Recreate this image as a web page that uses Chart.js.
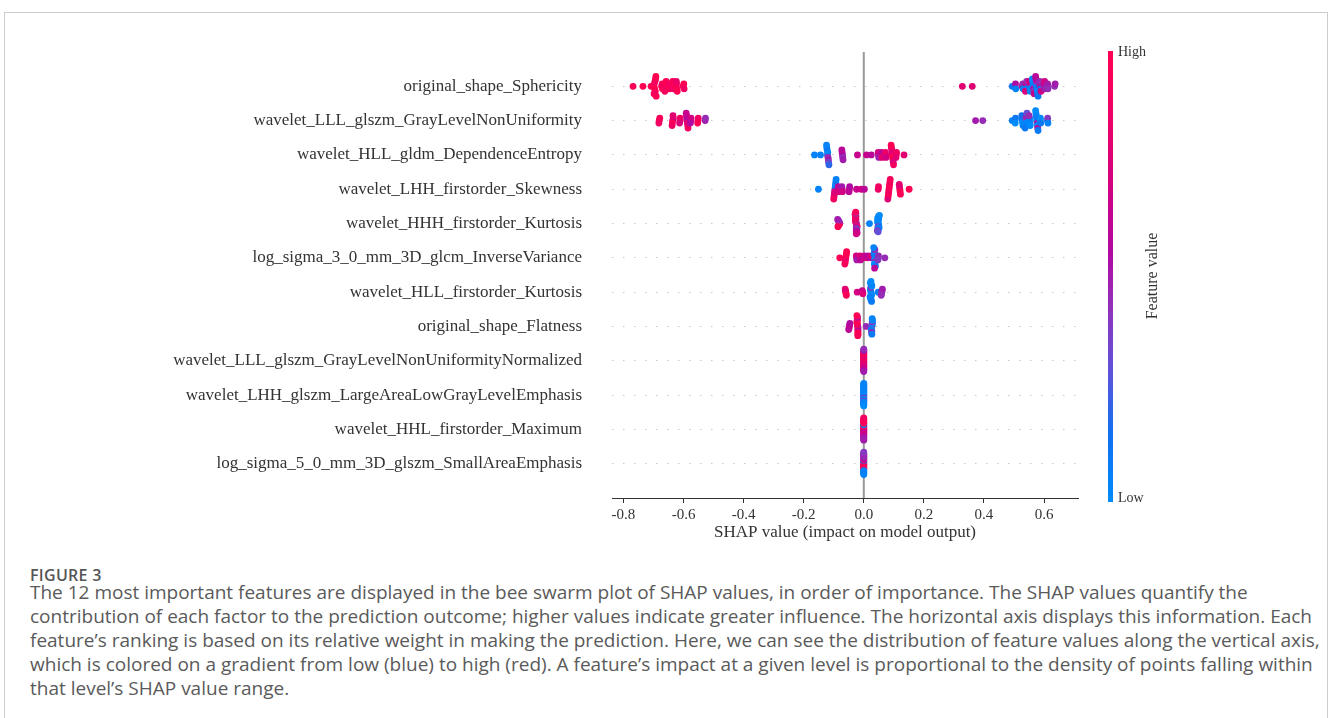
<!DOCTYPE html>
<html>
<head>
<meta charset="utf-8">
<script src="https://cdn.jsdelivr.net/npm/chart.js@4.4.1/dist/chart.umd.min.js"></script>
<style>
  html, body { margin: 0; padding: 0; background: #fff; overflow: hidden; }
  body { width: 1328px; height: 718px; position: relative; }
  .frame { position: absolute; left: 4px; top: 12px; width: 1322px; height: 720px; border: 1px solid #ccc; border-bottom: none; }
  #plot { position: absolute; left: 0; top: 0; }
  .fig-label { position: absolute; left: 30px; top: 565px; font: 600 16px/20px "Open Sans", sans-serif; color: #555; letter-spacing: 0.3px; }
  .caption { position: absolute; left: 30px; top: 580px; font: 400 19px/24px "Open Sans", sans-serif; color: #5a5a5a; white-space: nowrap; }
</style>
</head>
<body>
<div class="frame"></div>
<canvas id="plot" width="1328" height="545"></canvas>
<div class="fig-label">FIGURE 3</div>
<div class="caption">The 12 most important features are displayed in the bee swarm plot of SHAP values, in order of importance. The SHAP values quantify the<br>contribution of each factor to the prediction outcome; higher values indicate greater influence. The horizontal axis displays this information. Each<br>feature’s ranking is based on its relative weight in making the prediction. Here, we can see the distribution of feature values along the vertical axis,<br>which is colored on a gradient from low (blue) to high (red). A feature’s impact at a given level is proportional to the density of points falling within<br>that level’s SHAP value range.</div>

<script>
// 特徴量（上から重要度順）
const FEATURES = [
  "original_shape_Sphericity",
  "wavelet_LLL_glszm_GrayLevelNonUniformity",
  "wavelet_HLL_gldm_DependenceEntropy",
  "wavelet_LHH_firstorder_Skewness",
  "wavelet_HHH_firstorder_Kurtosis",
  "log_sigma_3_0_mm_3D_glcm_InverseVariance",
  "wavelet_HLL_firstorder_Kurtosis",
  "original_shape_Flatness",
  "wavelet_LLL_glszm_GrayLevelNonUniformityNormalized",
  "wavelet_LHH_glszm_LargeAreaLowGrayLevelEmphasis",
  "wavelet_HHL_firstorder_Maximum",
  "log_sigma_5_0_mm_3D_glszm_SmallAreaEmphasis"
]

const X_TICKS = [-0.8, -0.6, -0.4, -0.2, 0.0, 0.2, 0.4, 0.6]

// SHAP値 / 特徴量の値 (0 = Low, 1 = High)
const SHAP_1 = [
  -0.768, -0.735, -0.708,
  -0.699, -0.697, -0.696, -0.695, -0.694, -0.693, -0.698, -0.692, -0.691,
  -0.673, -0.671, -0.670,
  -0.661, -0.660, -0.659, -0.658, -0.662,
  -0.649, -0.647, -0.646,
  -0.637, -0.635, -0.634, -0.636,
  -0.625, -0.623, -0.622, -0.624, -0.621,
  -0.601, -0.599, -0.598,
  0.328, 0.361, 0.494,
  0.503, 0.505, 0.506,
  0.527, 0.529, 0.530,
  0.539, 0.540, 0.541, 0.542, 0.538,
  0.551, 0.552, 0.553, 0.550, 0.554,
  0.563, 0.564, 0.565, 0.562, 0.566, 0.561, 0.567,
  0.575, 0.576, 0.577, 0.574, 0.578, 0.573, 0.579, 0.572, 0.580,
  0.587, 0.588, 0.589, 0.586, 0.590,
  0.599, 0.600, 0.601, 0.602,
  0.611, 0.612, 0.613,
  0.635, 0.637
]
const FEAT_1 = [
  0.95, 1.0, 0.97,
  1.0, 0.95, 1.0, 0.9, 1.0, 0.97, 0.92, 1.0, 0.95,
  1.0, 0.9, 0.95,
  0.95, 1.0, 0.88, 1.0, 0.92,
  1.0, 0.9, 0.95,
  0.92, 1.0, 0.88, 0.95,
  1.0, 0.9, 0.95, 0.85, 1.0,
  0.95, 1.0, 0.9,
  0.8, 0.78, 0.1,
  0.15, 0.55, 0.05,
  0.7, 0.45, 0.1,
  0.1, 0.6, 0.05, 0.45, 0.75,
  0.05, 0.5, 0.1, 0.7, 0.0,
  0.0, 0.1, 0.55, 0.05, 0.4, 0.0, 0.65,
  0.0, 0.05, 0.1, 0.45, 0.0, 0.55, 0.05, 0.6, 0.1,
  0.5, 0.6, 0.1, 0.45, 0.7,
  0.45, 0.6, 0.5, 0.7,
  0.4, 0.5, 0.45,
  0.45, 0.5
]

const SHAP_2 = [
  -0.681, -0.679, -0.682,
  -0.636, -0.634, -0.637, -0.635, -0.638,
  -0.612, -0.611, -0.613,
  -0.589, -0.588, -0.587, -0.590, -0.586, -0.591, -0.585,
  -0.576, -0.575, -0.577,
  -0.552, -0.551, -0.553,
  -0.528, -0.527,
  0.372, 0.396, 0.494,
  0.503, 0.505, 0.504,
  0.527, 0.528, 0.529, 0.526, 0.530,
  0.539, 0.540, 0.541, 0.542, 0.538, 0.543, 0.537,
  0.551, 0.552, 0.553, 0.550, 0.554,
  0.575, 0.576, 0.577, 0.574, 0.578, 0.573, 0.579, 0.572, 0.580,
  0.587, 0.588, 0.589,
  0.611, 0.612, 0.613
]
const FEAT_2 = [
  1.0, 0.95, 0.9,
  0.95, 0.75, 1.0, 0.8, 0.9,
  0.7, 0.9, 0.75,
  0.7, 0.55, 0.8, 0.6, 0.75, 0.65, 0.9,
  0.6, 0.7, 0.55,
  0.95, 0.9, 1.0,
  0.5, 0.45,
  0.5, 0.45, 0.05,
  0.05, 0.1, 0.0,
  0.05, 0.1, 0.0, 0.15, 0.05,
  0.1, 0.4, 0.0, 0.5, 0.05, 0.3, 0.1,
  0.0, 0.1, 0.05, 0.45, 0.0,
  0.0, 0.05, 0.5, 0.1, 0.0, 0.05, 0.6, 0.0, 0.1,
  0.05, 0.0, 0.1,
  0.1, 0.4, 0.05
]

const SHAP_3 = [
  -0.164, -0.144,
  -0.121, -0.120, -0.119, -0.122, -0.118, -0.123, -0.117, -0.124, -0.116,
  -0.071, -0.072, -0.070, -0.073, -0.069,
  -0.021, 0.009, 0.025,
  0.049, 0.048, 0.050,
  0.060, 0.059, 0.061,
  0.073, 0.072, 0.074,
  0.094, 0.095, 0.096, 0.093, 0.097, 0.092, 0.098, 0.091, 0.099,
  0.108, 0.109, 0.107,
  0.134
]
const FEAT_3 = [
  0.05, 0.05,
  0.3, 0.05, 0.45, 0.0, 0.5, 0.1, 0.35, 0.05, 0.2,
  0.5, 0.55, 0.45, 0.6, 0.5,
  0.65, 0.65, 0.6,
  0.55, 0.7, 0.5,
  0.7, 0.6, 0.8,
  0.75, 0.85, 0.7,
  0.9, 0.8, 1.0, 0.75, 0.95, 0.85, 0.7, 1.0, 0.9,
  0.85, 0.9, 0.8,
  0.8
]

const SHAP_4 = [
  -0.151,
  -0.096, -0.095, -0.097, -0.094, -0.098, -0.093, -0.099, -0.092, -0.100,
  -0.084, -0.085, -0.083,
  -0.072, -0.073, -0.071,
  -0.048, -0.047, -0.049,
  -0.024, -0.008, 0.002,
  0.048, 0.049,
  0.084, 0.085, 0.083, 0.086, 0.082, 0.087, 0.081, 0.088, 0.080,
  0.120, 0.119, 0.121, 0.118, 0.122,
  0.151
]
const FEAT_4 = [
  0.05,
  0.3, 0.05, 0.7, 0.0, 0.75, 0.1, 0.8, 0.05, 0.9,
  0.7, 0.6, 0.75,
  0.65, 0.5, 0.7,
  0.7, 0.55, 0.6,
  0.65, 0.7, 0.6,
  0.85, 0.9,
  1.0, 0.9, 0.95, 1.0, 0.85, 0.9, 1.0, 0.95, 0.8,
  0.9, 0.75, 1.0, 0.8, 0.95,
  1.0
]

const SHAP_5 = [
  -0.080, -0.081, -0.082, -0.083, -0.084, -0.085, -0.086, -0.087,
  -0.025, -0.026, -0.024, -0.027, -0.023, -0.028, -0.022, -0.026, -0.025, -0.027, -0.024,
  -0.028, -0.023, -0.026, -0.025, -0.027, -0.024, -0.029, -0.022, -0.026, -0.025, -0.027,
  0.019,
  0.048, 0.047, 0.049, 0.046, 0.050, 0.048, 0.047, 0.049, 0.051, 0.046, 0.048, 0.050,
  0.047, 0.049, 0.045, 0.052, 0.048
]
const FEAT_5 = [
  0.7, 0.45, 1.0, 0.5, 0.95, 0.4, 1.0, 0.5,
  0.95, 0.6, 0.9, 0.55, 0.45, 1.0, 0.95, 0.5, 0.6, 0.9, 0.4,
  1.0, 0.35, 0.7, 0.6, 0.95, 0.55, 0.9, 0.65, 0.45, 0.7, 0.95,
  0.05,
  0.0, 0.05, 0.1, 0.0, 0.05, 0.0, 0.35, 0.05, 0.1, 0.0, 0.05, 0.0,
  0.1, 0.05, 0.4, 0.0, 0.3
]

const SHAP_6 = [
  -0.080,
  -0.060, -0.059, -0.061, -0.058, -0.062, -0.057, -0.063,
  -0.024, -0.025, -0.023,
  -0.012, -0.013, -0.011,
  0.001, 0.002,
  0.012, 0.013,
  0.024, 0.025,
  0.036, 0.035, 0.037, 0.034, 0.038, 0.036, 0.035, 0.037, 0.039, 0.033, 0.036,
  0.048, 0.049, 0.047,
  0.070
]
const FEAT_6 = [
  1.0,
  1.0, 0.95, 0.9, 1.0, 0.85, 1.0, 0.95,
  0.6, 0.7, 0.5,
  0.65, 0.75, 0.6,
  0.7, 0.65,
  0.7, 0.6,
  0.55, 0.8,
  0.05, 0.4, 0.0, 0.1, 0.5, 0.05, 0.0, 0.45, 0.1, 0.05, 0.6,
  0.5, 0.45, 0.4,
  0.45
]

const SHAP_7 = [
  -0.060, -0.061, -0.059, -0.062, -0.058,
  -0.022,
  -0.004, -0.005, -0.003,
  0.024, 0.023, 0.025, 0.022, 0.026, 0.024, 0.021, 0.027, 0.023, 0.025, 0.024, 0.022, 0.026, 0.024,
  0.048,
  0.060, 0.061, 0.059, 0.062, 0.058
]
const FEAT_7 = [
  0.9, 0.75, 1.0, 0.8, 0.95,
  0.7,
  0.7, 0.65, 0.75,
  0.05, 0.0, 0.1, 0.05, 0.0, 0.4, 0.05, 0.0, 0.1, 0.05, 0.0, 0.05, 0.1, 0.0,
  0.05,
  0.45, 0.5, 0.4, 0.5, 0.45
]

const SHAP_8 = [
  -0.048, -0.047, -0.049, -0.046, -0.050,
  -0.020, -0.021, -0.019, -0.022, -0.020, -0.023, -0.019, -0.021, -0.020, -0.022, -0.019, -0.021, -0.020, -0.023,
  0.008,
  0.027, 0.028, 0.026, 0.029, 0.025, 0.028, 0.027, 0.029, 0.026, 0.028, 0.027
]
const FEAT_8 = [
  0.7, 0.5, 0.75, 0.55, 0.6,
  1.0, 0.95, 0.5, 1.0, 0.9, 1.0, 0.55, 0.95, 1.0, 0.9, 1.0, 0.6, 0.95, 1.0,
  0.45,
  0.05, 0.1, 0.4, 0.0, 0.05, 0.45, 0.1, 0.0, 0.5, 0.05, 0.1
]

// 下位4特徴量は影響ほぼゼロ
const SHAP_9 = [0, 0, 0, 0, 0, 0, 0, 0, 0, 0, 0, 0, 0, 0, 0, 0, 0, 0, 0, 0, 0, 0, 0, 0, 0, 0, 0, 0, 0, 0]
const FEAT_9 = [
  0.95, 1.0, 0.75, 0.95, 1.0, 0.7, 0.7, 1.0, 0.9, 0.9, 0.65, 0.75, 0.7, 1.0, 1.0,
  0.95, 0.7, 0.7, 0.75, 1.0, 0.65, 0.95, 0.7, 0.9, 0.6, 0.55, 0.55, 0.5, 0.5, 0.45
]
const SHAP_10 = [0, 0, 0, 0, 0, 0, 0, 0, 0, 0, 0, 0, 0, 0, 0, 0, 0, 0, 0, 0, 0, 0, 0, 0, 0, 0, 0, 0, 0, 0]
const FEAT_10 = [
  0.05, 0.0, 0.1, 0.05, 0.45, 0.0, 0.05, 0.1, 0.5, 0.05, 0.0, 0.0, 0.1, 0.05, 0.05,
  0.0, 0.4, 0.1, 0.05, 0.0, 0.05, 0.05, 0.0, 0.1, 0.05, 0.0, 0.05, 0.05, 0.0, 0.05
]
const SHAP_11 = [0, 0, 0, 0, 0, 0, 0, 0, 0, 0, 0, 0, 0, 0, 0, 0, 0, 0, 0, 0, 0, 0, 0, 0, 0, 0, 0, 0, 0, 0]
const FEAT_11 = [
  0.8, 0.95, 0.7, 1.0, 0.75, 0.9, 0.65, 1.0, 0.7, 0.95, 0.6, 0.05, 0.7, 0.1, 0.75,
  1.0, 0.65, 0.95, 0.55, 1.0, 0.6, 0.9, 0.5, 1.0, 0.55, 0.95, 0.45, 1.0, 0.5, 0.9
]
const SHAP_12 = [0, 0, 0, 0, 0, 0, 0, 0, 0, 0, 0, 0, 0, 0, 0, 0, 0, 0, 0, 0, 0, 0, 0, 0, 0, 0, 0, 0, 0, 0]
const FEAT_12 = [
  0.95, 1.0, 1.0, 0.95, 0.95, 0.05, 1.0, 0.1, 0.9, 0.7, 1.0, 0.75, 0.95, 0.65, 1.0,
  0.5, 0.9, 0.45, 0.05, 0.5, 0.1, 0.4, 0.0, 0.45, 0.05, 0.5, 0.1, 0.45, 0.05, 0.4
]

const SHAP_ROWS = [SHAP_1, SHAP_2, SHAP_3, SHAP_4, SHAP_5, SHAP_6, SHAP_7, SHAP_8, SHAP_9, SHAP_10, SHAP_11, SHAP_12]
const FEAT_ROWS = [FEAT_1, FEAT_2, FEAT_3, FEAT_4, FEAT_5, FEAT_6, FEAT_7, FEAT_8, FEAT_9, FEAT_10, FEAT_11, FEAT_12]

// 表示設定
const X_MIN = -0.838
const X_MAX = 0.713
const BIN = 0.012        // ビースウォームのビン幅
const ROW_H = 0.4

// SHAP red_blue カラーマップ近似
const CMAP = [
  [0.0, [0, 139, 251]],
  [0.15, [16, 112, 240]],
  [0.3, [100, 80, 216]],
  [0.45, [150, 44, 182]],
  [0.55, [176, 10, 162]],
  [0.7, [210, 0, 130]],
  [0.85, [236, 0, 104]],
  [1.0, [255, 0, 82]]
]

function cmap(t) {
  t = Math.max(0, Math.min(1, t))
  for (let i = 1; i < CMAP.length; i++) {
    if (t <= CMAP[i][0]) {
      const [t0, c0] = CMAP[i - 1]
      const [t1, c1] = CMAP[i]
      const k = (t - t0) / (t1 - t0)
      const c = c0.map((v, j) => Math.round(v + (c1[j] - v) * k))
      return `rgb(${c[0]},${c[1]},${c[2]})`
    }
  }
  return "rgb(255,0,82)"
}

// shap.summary_plot と同じ積み上げ方
function swarm(values) {
  const layer = {}
  const ys = values.map((v) => {
    const b = Math.round(v / BIN)
    const l = layer[b] || 0
    layer[b] = l + 1
    return Math.ceil(l / 2) * (l % 2 ? 1 : -1)
  })
  const scale = (0.9 * ROW_H) / (Math.max(...ys) + 1)
  return ys.map((y) => y * scale)
}

const N = FEATURES.length
const datasets = SHAP_ROWS.map((vals, i) => {
  const off = swarm(vals)
  return {
    data: vals.map((v, j) => ({ x: v, y: N - 1 - i + off[j] })),
    backgroundColor: FEAT_ROWS[i].map(cmap),
    pointRadius: 3.4,
    pointHoverRadius: 3.4,
    pointBorderWidth: 0,
  }
})

// ゼロの縦線
const zeroLine = {
  id: "zeroLine",
  beforeDatasetsDraw(chart) {
    const { ctx, chartArea, scales } = chart
    const x = scales.x.getPixelForValue(0)
    ctx.save()
    ctx.strokeStyle = "#999"
    ctx.lineWidth = 2
    ctx.beginPath()
    ctx.moveTo(x, chartArea.top)
    ctx.lineTo(x, chartArea.bottom)
    ctx.stroke()
    ctx.restore()
  },
}

// カラーバー
const colorBar = {
  id: "colorBar",
  afterDraw(chart) {
    const { ctx } = chart
    const x = 1108, w = 5, top = 51, bottom = 502
    const g = ctx.createLinearGradient(0, bottom, 0, top)
    CMAP.forEach(([t, c]) => g.addColorStop(t, `rgb(${c[0]},${c[1]},${c[2]})`))
    ctx.save()
    ctx.fillStyle = g
    ctx.fillRect(x, top, w, bottom - top)
    ctx.fillStyle = "#333"
    ctx.font = '14px "Liberation Serif", serif'
    ctx.textAlign = "left"
    ctx.textBaseline = "middle"
    ctx.fillText("High", x + w + 5, top + 1)
    ctx.fillText("Low", x + w + 5, bottom - 4)
    ctx.font = '16px "Liberation Serif", serif'
    ctx.translate(1153, 276)
    ctx.rotate(-Math.PI / 2)
    ctx.textAlign = "center"
    ctx.fillText("Feature value", 0, 0)
    ctx.restore()
  },
}

Chart.defaults.font.family = '"Liberation Serif", "Times New Roman", serif'

new Chart(document.getElementById("plot"), {
  type: "scatter",
  data: { datasets },
  options: {
    responsive: false,
    animation: false,
    events: [],
    layout: { padding: { top: 52, right: 250, bottom: 0, left: 0 } },
    plugins: { legend: { display: false }, tooltip: { enabled: false } },
    scales: {
      x: {
        type: "linear",
        min: X_MIN,
        max: X_MAX,
        afterBuildTicks: (s) => { s.ticks = X_TICKS.map((v) => ({ value: v })) },
        afterFit: (s) => { s.height = 47 },
        grid: { drawOnChartArea: false, drawTicks: true, tickLength: 5, color: "#333", lineWidth: 1 },
        border: { display: true, color: "#333", width: 1 },
        ticks: { color: "#333", font: { size: 15 }, padding: 3, maxRotation: 0, callback: (v) => v.toFixed(1) },
        title: {
          display: true,
          text: "SHAP value (impact on model output)",
          color: "#333",
          font: { size: 17 },
          padding: { top: 0, bottom: 2 },
        },
      },
      y: {
        type: "linear",
        min: -1,
        max: N,
        afterBuildTicks: (s) => { s.ticks = FEATURES.map((_, i) => ({ value: i })) },
        afterFit: (s) => { s.width = 612 },
        grid: { drawTicks: false, color: "#c8c8c8", lineWidth: 1 },
        border: { display: false, dash: [1.5, 9.5] },
        ticks: { color: "#333", font: { size: 17 }, padding: 30, autoSkip: false, callback: (v) => FEATURES[N - 1 - v] },
      },
    },
  },
  plugins: [zeroLine, colorBar],
})
</script>
</body>
</html>
